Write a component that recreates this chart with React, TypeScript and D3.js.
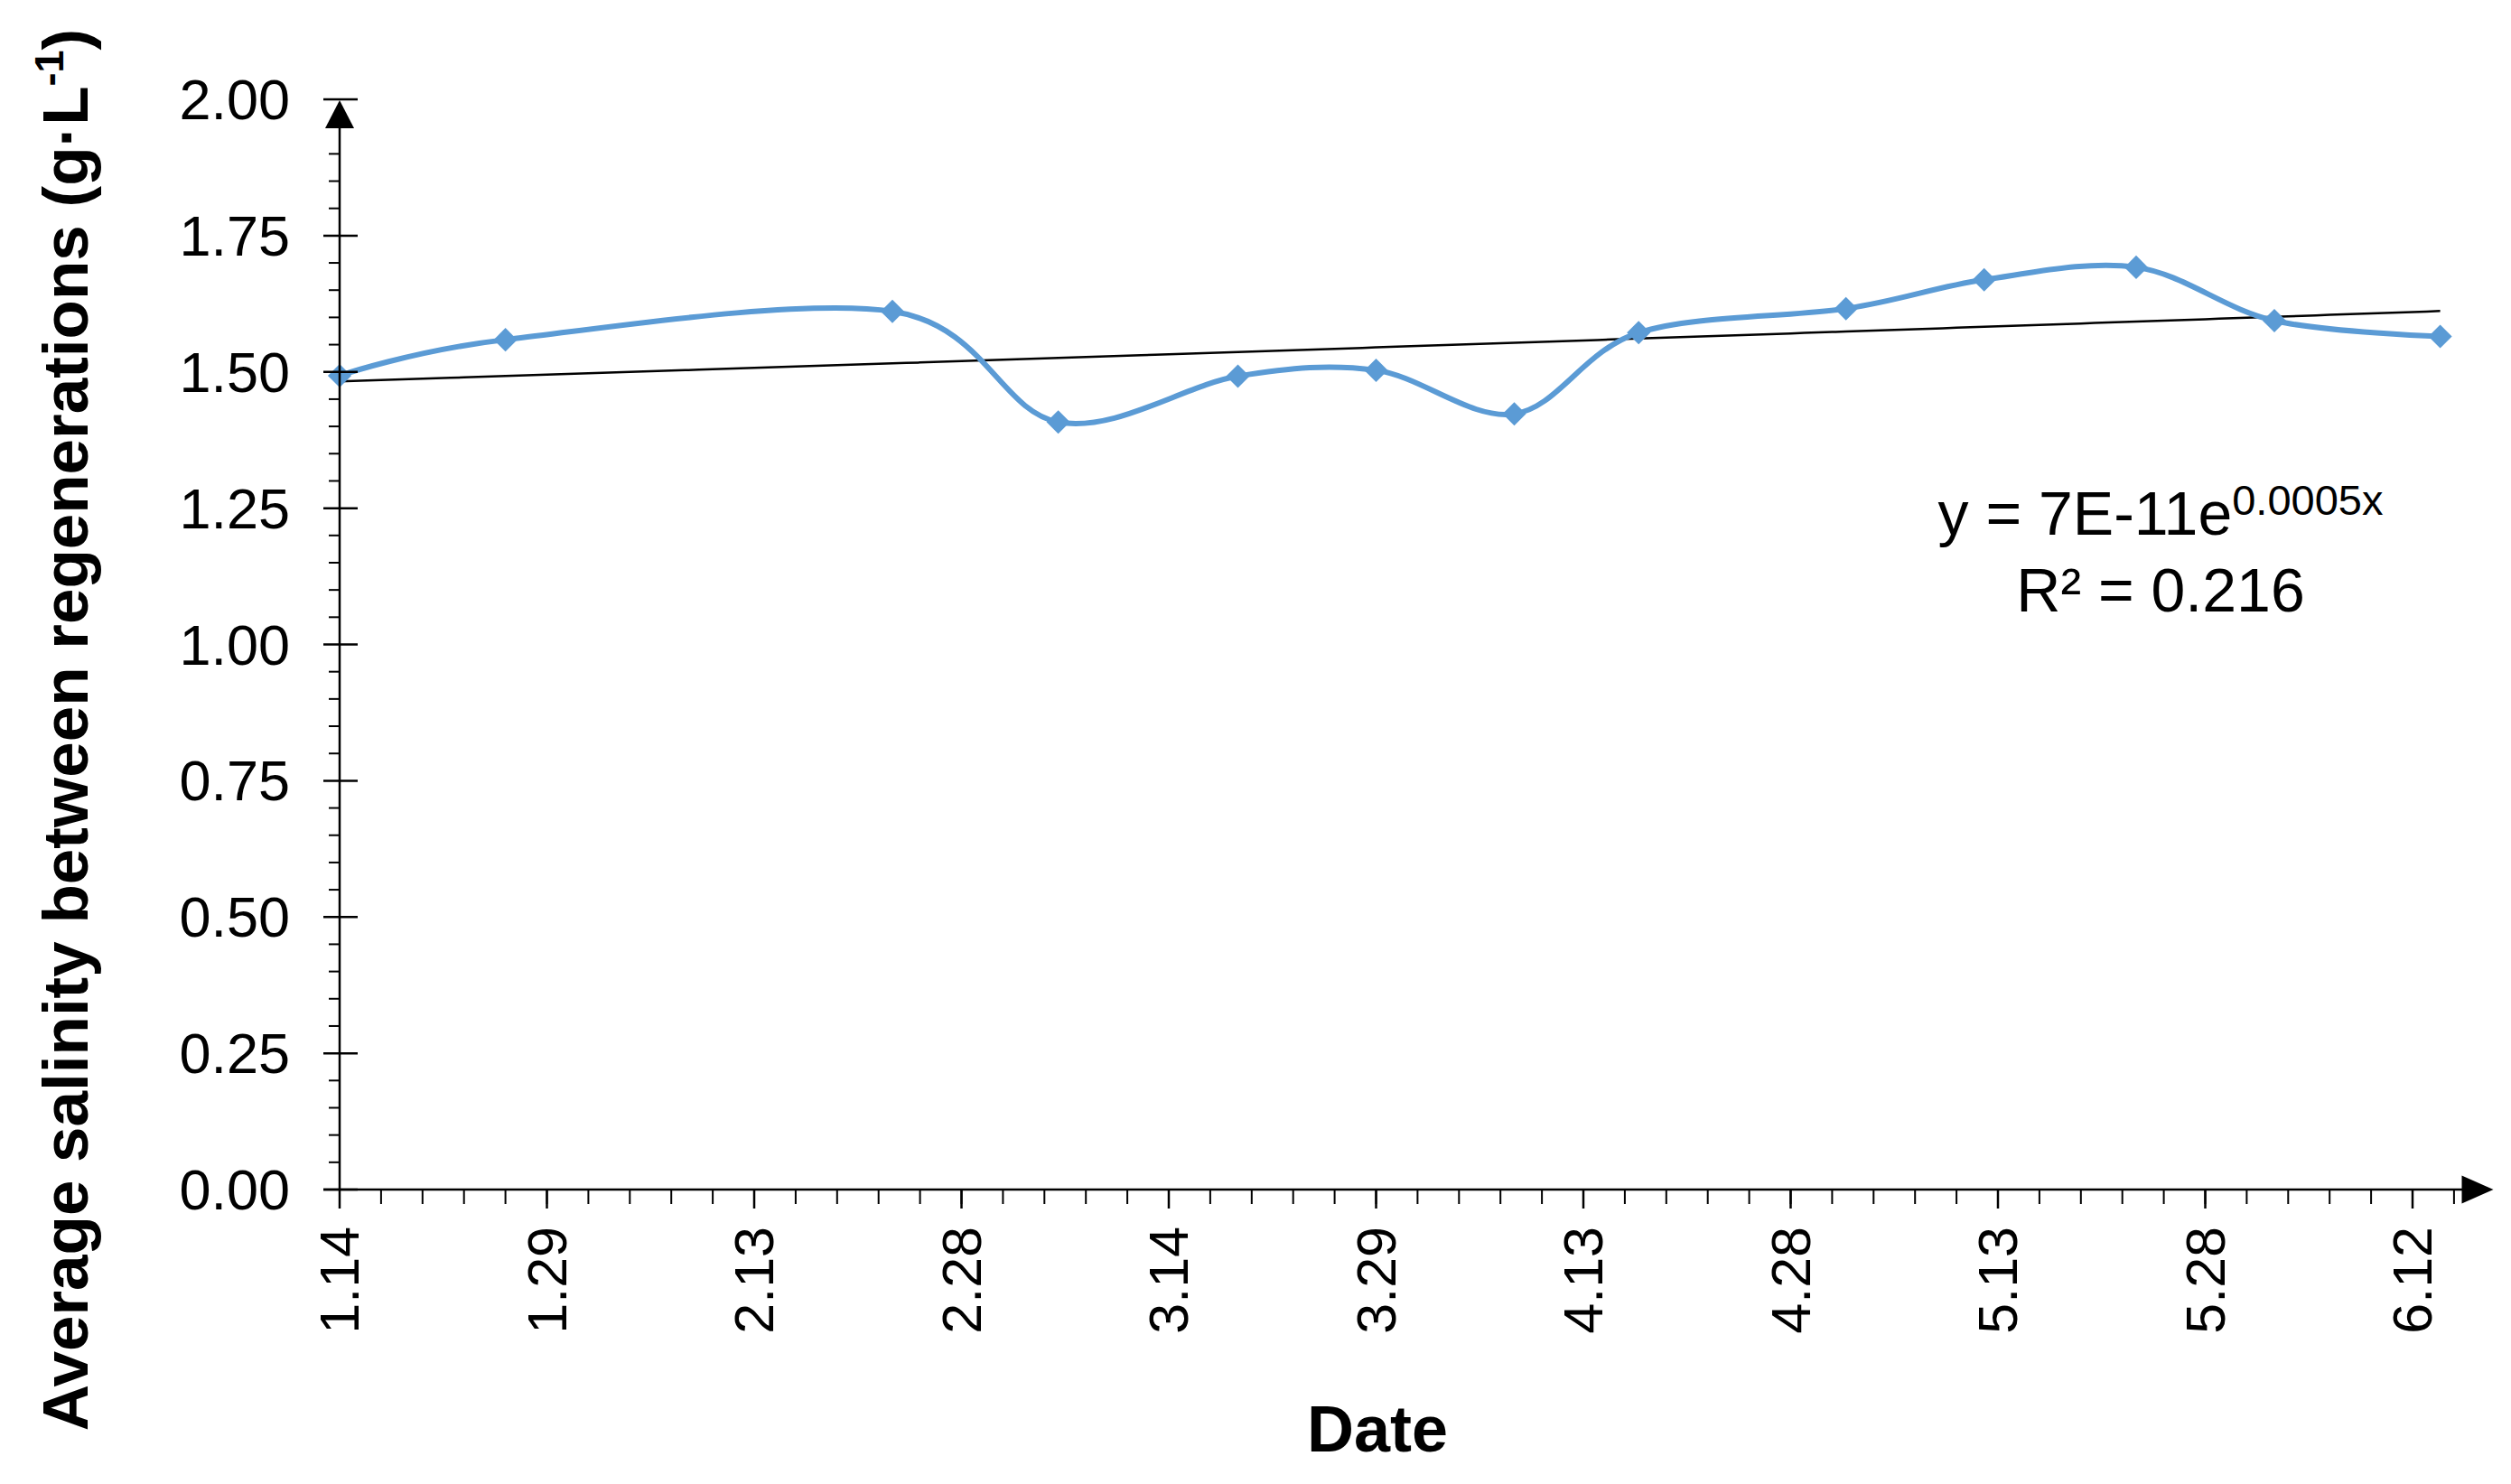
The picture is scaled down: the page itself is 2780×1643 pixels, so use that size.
import { useEffect } from 'react';
import * as d3 from 'd3';

// sampling dates and average salinity (g/L) between regenerations
const sampleDates = [
  '2020-01-14', '2020-01-26', '2020-02-23', '2020-03-06', '2020-03-19', '2020-03-29', '2020-04-08',
  '2020-04-17', '2020-05-02', '2020-05-12', '2020-05-23', '2020-06-02', '2020-06-14',
];
const salinity = [1.493, 1.559, 1.611, 1.408, 1.492, 1.503, 1.423, 1.572, 1.616, 1.669, 1.692, 1.594, 1.565];

const dateTicks = [
  '2020-01-14', '2020-01-29', '2020-02-13', '2020-02-28', '2020-03-14', '2020-03-29',
  '2020-04-13', '2020-04-28', '2020-05-13', '2020-05-28', '2020-06-12',
];
const axisStart = '2020-01-14';
const axisEnd = '2020-06-17';
const yTicks = [0, 0.25, 0.5, 0.75, 1.0, 1.25, 1.5, 1.75, 2.0];

const eqMain = 'y = 7E-11e';
const eqSup = '0.0005x';
const eqR2 = 'R² = 0.216';

const W = 2780;
const H = 1643;
const FONT = 'Liberation Sans, Arial, Helvetica, sans-serif';
const BLUE = '#5B9BD5';

const parse = d3.timeParse('%Y-%m-%d');

const App = () => {
  useEffect(() => {
    document.body.style.margin = '0';
    document.body.style.overflow = 'hidden';
  }, []);

  const t0 = parse(axisStart)!;
  const t1 = parse(axisEnd)!;
  const x = d3.scaleTime().domain([t0, t1]).range([376, 2747.5]);
  const y = d3.scaleLinear().domain([0, 2]).range([1317, 110]);

  const pts = sampleDates.map((s, i) => ({ d: parse(s)!, v: salinity[i] }));

  // exponential trendline: ln(y) = a + b*t
  const ts = pts.map(p => d3.timeDay.count(t0, p.d));
  const ls = pts.map(p => Math.log(p.v));
  const mt = d3.mean(ts)!;
  const ml = d3.mean(ls)!;
  const b = d3.sum(ts, (t, i) => (t - mt) * (ls[i] - ml)) / d3.sum(ts, t => (t - mt) ** 2);
  const a = ml - b * mt;
  const lastDay = d3.max(ts)!;
  const trend = d3.range(0, lastDay + 0.001, 1).map(t => ({
    d: d3.timeDay.offset(t0, t),
    v: Math.exp(a + b * t),
  }));

  // excel style smoothing = uniform catmull-rom
  const line = d3.line<{ d: Date; v: number }>()
    .x(p => x(p.d))
    .y(p => y(p.v))
    .curve(d3.curveCardinal.tension(0));
  const trendLine = d3.line<{ d: Date; v: number }>()
    .x(p => x(p.d))
    .y(p => y(p.v));

  const diamond = d3.symbol(d3.symbolSquare, 340)();

  const majorX = dateTicks.map(s => parse(s)!);
  const minorX = d3.timeDay.range(t0, t1, 3);
  const minorY = d3.range(0, 2.0001, 0.05).filter(v => Math.abs(v / 0.25 - Math.round(v / 0.25)) > 0.01);
  const fmt = d3.timeFormat('%-m.%-d');

  const x0 = x.range()[0];
  const xEnd = x.range()[1];
  const y0 = y(0);
  const yTop = y(2);

  return (
    <svg width={W} height={H} style={{ display: 'block', background: '#fff' }} fontFamily={FONT}>
      {/* trendline */}
      <path d={trendLine(trend) ?? ''} fill="none" stroke="#000" strokeWidth={2.5} />

      {/* series */}
      <path d={line(pts) ?? ''} fill="none" stroke={BLUE} strokeWidth={6} />
      {pts.map((p, i) => (
        <path key={i} d={diamond ?? ''} fill={BLUE}
          transform={`translate(${x(p.d)},${y(p.v)}) rotate(45)`} />
      ))}

      {/* y axis */}
      <line x1={x0} x2={x0} y1={y0} y2={yTop + 20} stroke="#000" strokeWidth={2.5} />
      {minorY.map(v => (
        <line key={v} x1={x0 - 12} x2={x0} y1={y(v)} y2={y(v)} stroke="#000" strokeWidth={2} />
      ))}
      {yTicks.map(v => (
        <g key={v}>
          <line x1={x0 - 18} x2={x0 + 20} y1={y(v)} y2={y(v)} stroke="#000" strokeWidth={2.5} />
          <text x={321} y={y(v)} dy="0.35em" textAnchor="end" fontSize={63} fill="#000">
            {v.toFixed(2)}
          </text>
        </g>
      ))}
      <path d={`M${x0},${yTop + 1}L${x0 - 16},${yTop + 32}L${x0 + 16},${yTop + 32}Z`} fill="#000" />

      {/* x axis */}
      <line x1={x0 - 18} x2={xEnd - 15} y1={y0} y2={y0} stroke="#000" strokeWidth={2.5} />
      {minorX.map(d => (
        <line key={+d} x1={x(d)} x2={x(d)} y1={y0} y2={y0 + 16} stroke="#000" strokeWidth={2} />
      ))}
      {majorX.map(d => (
        <g key={+d}>
          <line x1={x(d)} x2={x(d)} y1={y0} y2={y0 + 21} stroke="#000" strokeWidth={2.5} />
          <text transform={`translate(${x(d)},1358) rotate(-90)`} dy="0.35em" textAnchor="end"
            fontSize={61} fill="#000">{fmt(d)}</text>
        </g>
      ))}
      <path d={`M${xEnd + 13},${y0}L${xEnd - 22},${y0 - 15.5}L${xEnd - 22},${y0 + 15.5}Z`} fill="#000" />

      {/* axis titles */}
      <text transform="translate(97,808) rotate(-90)" textAnchor="middle" fontSize={71}
        fontWeight="bold" fill="#000">
        Average salinity between regenerations (g·L<tspan fontSize={45} dy={-27}>-1</tspan>
        <tspan dy={27}>)</tspan>
      </text>
      <text x={1525} y={1607} textAnchor="middle" fontSize={72} fontWeight="bold" fill="#000">Date</text>

      {/* equation */}
      <text x={2392} y={592} textAnchor="middle" fontSize={68} fill="#000">
        {eqMain}<tspan fontSize={47} dy={-22}>{eqSup}</tspan>
      </text>
      <text x={2392} y={677} textAnchor="middle" fontSize={68} fill="#000">{eqR2}</text>
    </svg>
  );
};

export default App;
